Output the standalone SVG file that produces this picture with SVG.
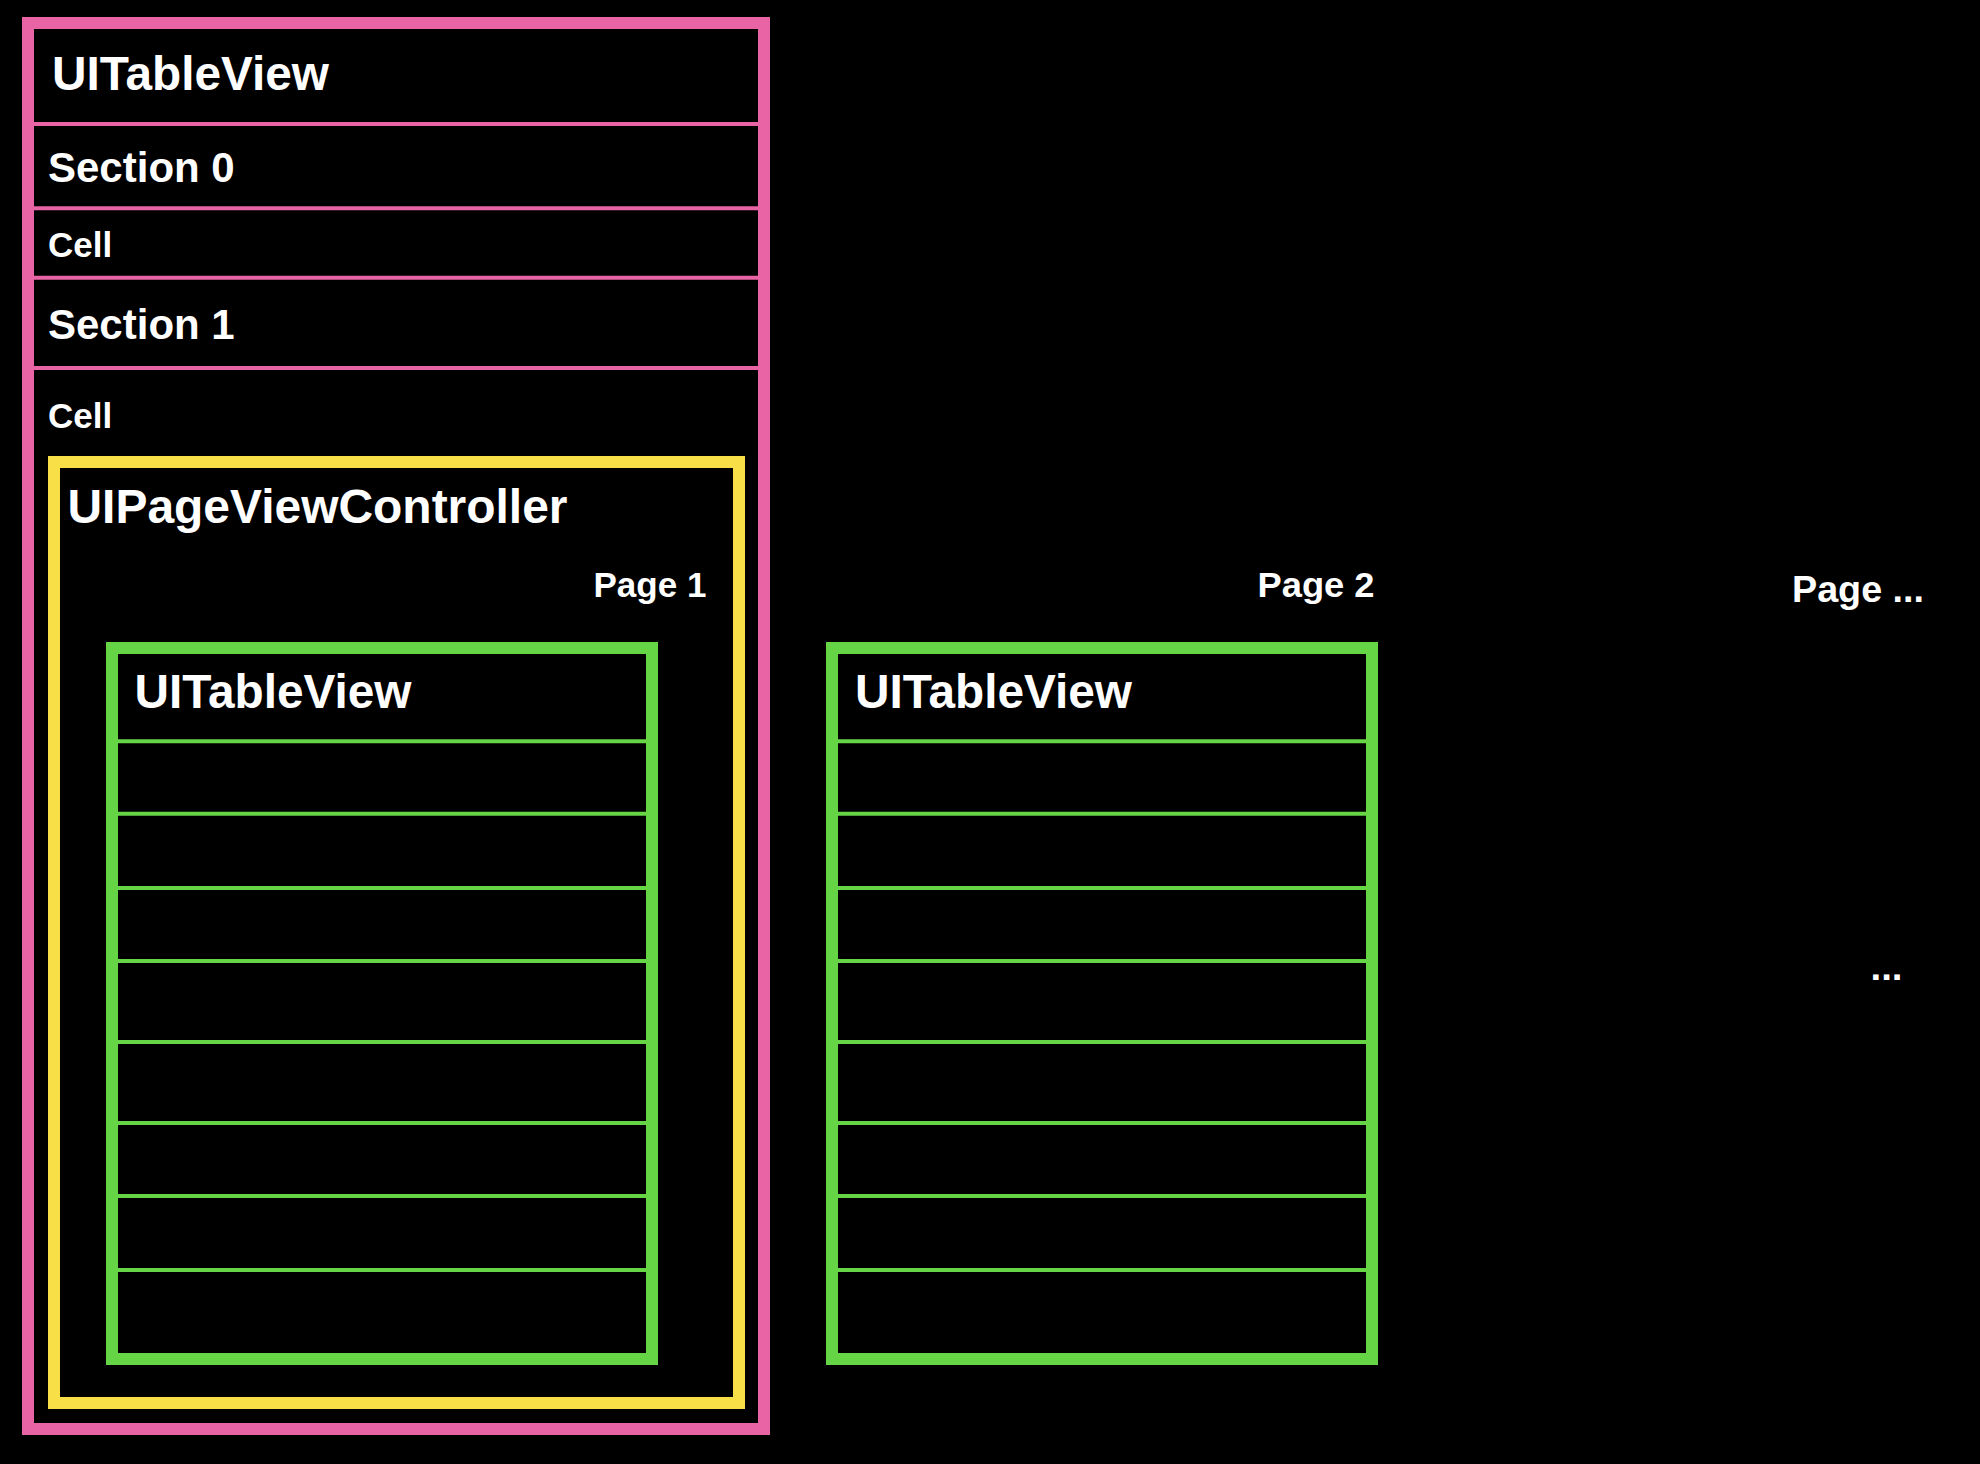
<svg xmlns="http://www.w3.org/2000/svg" width="1980" height="1464" viewBox="0 0 1980 1464">
<style>
text{font-family:"Liberation Sans",Arial,Helvetica,sans-serif;font-weight:bold;fill:#ffffff}
.pink{fill:none;stroke:#E964A4}
.yellow{fill:none;stroke:#F8DF48}
.green{fill:none;stroke:#65D546}
.t48{font-size:48px}
.t42{font-size:42px}
.t35{font-size:35px}
.t36{font-size:36px}
</style>
<rect x="0" y="0" width="1980" height="1464" fill="#000000"/>
<g id="outer-tableview">
<rect class="pink" x="28" y="23" width="736" height="1406" stroke-width="12"/>
<g class="pink" stroke-width="4">
<line x1="34" y1="124" x2="758" y2="124"/>
<line x1="34" y1="208.3" x2="758" y2="208.3"/>
<line x1="34" y1="277.7" x2="758" y2="277.7"/>
<line x1="34" y1="368" x2="758" y2="368"/>
</g>
<text class="t48" x="52" y="90" textLength="277" lengthAdjust="spacingAndGlyphs">UITableView</text>
<text class="t42" x="48" y="181.7">Section 0</text>
<text class="t35" x="48" y="256.7">Cell</text>
<text class="t42" x="48" y="339.3">Section 1</text>
<text class="t35" x="48" y="427.7">Cell</text>
</g>
<g id="pageviewcontroller">
<rect class="yellow" x="54" y="462" width="685" height="941" stroke-width="12"/>
<text class="t48" x="67.5" y="523.3" textLength="500" lengthAdjust="spacingAndGlyphs">UIPageViewController</text>
</g>
<g id="page1">
<text class="t35" x="593.5" y="596.7" textLength="113" lengthAdjust="spacingAndGlyphs">Page 1</text>
<rect class="green" x="112" y="648" width="540" height="711" stroke-width="12"/>
<g class="green" stroke-width="4">
<line x1="118" y1="741.3" x2="646" y2="741.3"/>
<line x1="118" y1="813.7" x2="646" y2="813.7"/>
<line x1="118" y1="888" x2="646" y2="888"/>
<line x1="118" y1="961" x2="646" y2="961"/>
<line x1="118" y1="1042" x2="646" y2="1042"/>
<line x1="118" y1="1123" x2="646" y2="1123"/>
<line x1="118" y1="1196" x2="646" y2="1196"/>
<line x1="118" y1="1270" x2="646" y2="1270"/>
</g>
<text class="t48" x="134.5" y="708.3" textLength="277" lengthAdjust="spacingAndGlyphs">UITableView</text>
</g>
<g id="page2">
<text class="t35" x="1257.5" y="597.3" textLength="117" lengthAdjust="spacingAndGlyphs">Page 2</text>
<rect class="green" x="832" y="648" width="540" height="711" stroke-width="12"/>
<g class="green" stroke-width="4">
<line x1="838" y1="741.3" x2="1366" y2="741.3"/>
<line x1="838" y1="813.7" x2="1366" y2="813.7"/>
<line x1="838" y1="888" x2="1366" y2="888"/>
<line x1="838" y1="961" x2="1366" y2="961"/>
<line x1="838" y1="1042" x2="1366" y2="1042"/>
<line x1="838" y1="1123" x2="1366" y2="1123"/>
<line x1="838" y1="1196" x2="1366" y2="1196"/>
<line x1="838" y1="1270" x2="1366" y2="1270"/>
</g>
<text class="t48" x="855" y="708.3" textLength="277" lengthAdjust="spacingAndGlyphs">UITableView</text>
</g>
<g id="page-more">
<text class="t36" x="1792" y="602.3" textLength="132" lengthAdjust="spacingAndGlyphs">Page ...</text>
<text class="t36" x="1870.5" y="979.5" textLength="32" lengthAdjust="spacingAndGlyphs">...</text>
</g>
<g id="connectors"></g>
</svg>
